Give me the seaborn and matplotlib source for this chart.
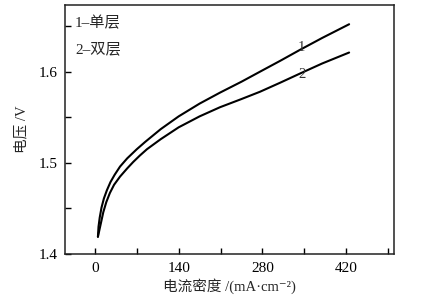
import numpy as np
import pandas as pd
import matplotlib
matplotlib.use("Agg")
import matplotlib.pyplot as plt
import seaborn as sns
from matplotlib.ticker import MultipleLocator

# Data
x_single = [5, 6, 8, 11, 15, 20, 26, 33, 42, 54, 70, 84, 110, 140, 175, 209, 245, 276, 310, 343, 380, 425]
y_single = [1.419, 1.430, 1.440, 1.451, 1.461, 1.470, 1.479, 1.487, 1.496, 1.505, 1.515, 1.523, 1.537, 1.551,
            1.565, 1.577, 1.589, 1.600, 1.612, 1.624, 1.637, 1.652]
x_double = [5, 7, 10, 14, 19, 25, 32, 42, 54, 64, 75, 87, 110, 140, 175, 209, 245, 276, 310, 343, 380, 425]
y_double = [1.419, 1.425, 1.434, 1.446, 1.457, 1.467, 1.476, 1.485, 1.494, 1.501, 1.508, 1.515, 1.526,
            1.539, 1.551, 1.561, 1.570, 1.578, 1.588, 1.598, 1.609, 1.621]
series_names = ["1", "2"]
legend_lines = ["1–单层", "2–双层"]
x_ticks = [0, 140, 280, 420]
y_ticks = [1.4, 1.5, 1.6]
x_label = "电流密度 /(mA·cm⁻²)"
y_label = "电压 /V"

sns.set_theme(style="ticks")
plt.rcParams["font.family"] = ["Liberation Serif", "Noto Sans CJK SC", "DejaVu Sans"]

df = pd.concat([
    pd.DataFrame({"x": x_single, "y": y_single, "s": series_names[0]}),
    pd.DataFrame({"x": x_double, "y": y_double, "s": series_names[1]}),
])

fig = plt.figure(figsize=(4.25, 3.0), dpi=100)
ax = fig.add_axes([0.153, 0.153, 0.774, 0.830])

sns.lineplot(data=df, x="x", y="y", hue="s", units="s", estimator=None, sort=False,
             palette=["black", "black"], linewidth=1.5, legend=False, ax=ax)

ax.set_xlim(-50, 500)
ax.set_ylim(1.4, 1.673)
ax.set_xticks(x_ticks)
ax.set_yticks(y_ticks)
ax.xaxis.set_minor_locator(MultipleLocator(70))
ax.yaxis.set_minor_locator(MultipleLocator(0.05))
ax.set_xticklabels([str(v) for v in x_ticks])
ax.set_yticklabels([f"{v:.1f}" for v in y_ticks])
ax.tick_params(which="both", direction="in", length=4, width=1.0, labelsize=11, colors="black")
ax.tick_params(axis="x", pad=6)
ax.tick_params(axis="y", pad=5)
for sp in ax.spines.values():
    sp.set_visible(True)
    sp.set_linewidth(1.1)
    sp.set_color("#222222")

ax.set_xlabel(x_label, fontsize=10.5, labelpad=2)
ax.set_ylabel(y_label, fontsize=10.5, labelpad=8)

ax.text(0.03, 0.928, legend_lines[0], transform=ax.transAxes, fontsize=11, va="center", ha="left")
ax.text(0.03, 0.823, legend_lines[1], transform=ax.transAxes, fontsize=11, va="center", ha="left")

ax.text(346, 1.627, series_names[0], fontsize=10.5, ha="center", va="center", color="#333333")
ax.text(346, 1.597, series_names[1], fontsize=10.5, ha="center", va="center", color="#333333")

fig.savefig("out.png", dpi=100, facecolor="white")
